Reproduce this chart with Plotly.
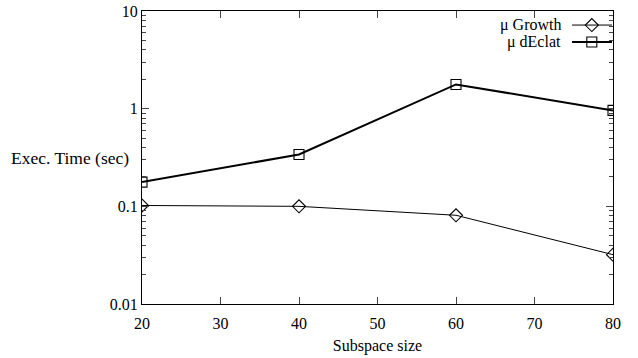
import plotly.graph_objects as go

# Execution time versus subspace size
subspace_size = [20, 40, 60, 80]
growth_time = [0.102, 0.100, 0.081, 0.032]
declat_time = [0.177, 0.34, 1.77, 0.96]

x_ticks = [20, 30, 40, 50, 60, 70, 80]
y_ticks = [0.01, 0.1, 1, 10]
y_tick_labels = ["0.01", "0.1", "1", "10"]

series_names = ["\u03bc Growth", "\u03bc dEclat"]

FONT = "Liberation Serif, serif"
FS = 16

fig = go.Figure()

fig.add_trace(go.Scatter(
    x=subspace_size, y=growth_time, mode="lines+markers",
    line=dict(color="black", width=1),
    marker=dict(symbol="diamond-open", size=10, color="black", line=dict(width=1.1)),
    showlegend=False,
))
fig.add_trace(go.Scatter(
    x=subspace_size, y=declat_time, mode="lines+markers",
    line=dict(color="black", width=2),
    marker=dict(symbol="square-open", size=10, color="black", line=dict(width=1.1)),
    showlegend=False,
))

# Key entries drawn on an overlay axis spanning the plot area (0..1)
key_y = [0.952, 0.894]
key_styles = [
    (1, "diamond-open", 10),
    (2, "square-open", 10),
]
for name, ky, (lw, sym, sz) in zip(series_names, key_y, key_styles):
    fig.add_trace(go.Scatter(
        x=[0.913, 0.998], y=[ky, ky], mode="lines", xaxis="x2", yaxis="y2",
        line=dict(color="black", width=lw), showlegend=False, hoverinfo="skip",
    ))
    fig.add_trace(go.Scatter(
        x=[0.955], y=[ky], mode="markers", xaxis="x2", yaxis="y2",
        marker=dict(symbol=sym, size=sz, color="black", line=dict(width=1.1)),
        showlegend=False, hoverinfo="skip",
    ))
    fig.add_annotation(
        x=0.894, y=ky, xref="x2", yref="y2", text=name, showarrow=False,
        xanchor="right", yanchor="middle", font=dict(family=FONT, size=FS, color="black"),
    )

fig.add_annotation(
    x=-0.024, y=0.5, xref="paper", yref="paper", text="Exec. Time (sec)",
    showarrow=False, xanchor="right", yanchor="middle",
    font=dict(family=FONT, size=17.5, color="black"),
)

fig.update_layout(
    width=638, height=358,
    margin=dict(l=142, r=25, t=11, b=54),
    paper_bgcolor="white", plot_bgcolor="white",
    font=dict(family=FONT, size=FS, color="black"),
    xaxis=dict(
        range=[20, 80], tickvals=x_ticks, ticks="inside", ticklen=7,
        showline=True, linecolor="black", linewidth=1, mirror="ticks",
        showgrid=False, zeroline=False, automargin=False,
        ticklabelstandoff=5,
        tickfont=dict(family=FONT, size=FS),
        title=dict(text="Subspace size", standoff=8, font=dict(family=FONT, size=FS)),
    ),
    yaxis=dict(
        type="log", range=[-2, 1], tickvals=y_ticks, ticktext=y_tick_labels,
        ticks="inside", ticklen=7,
        minor=dict(ticks="inside", ticklen=4, dtick="D1", showgrid=False),
        showline=True, linecolor="black", linewidth=1, mirror="ticks",
        showgrid=False, zeroline=False, automargin=False,
        tickfont=dict(family=FONT, size=FS),
    ),
    xaxis2=dict(range=[0, 1], overlaying="x", visible=False, fixedrange=True),
    yaxis2=dict(range=[0, 1], overlaying="y", visible=False, fixedrange=True),
)

fig.write_html("out.html")
